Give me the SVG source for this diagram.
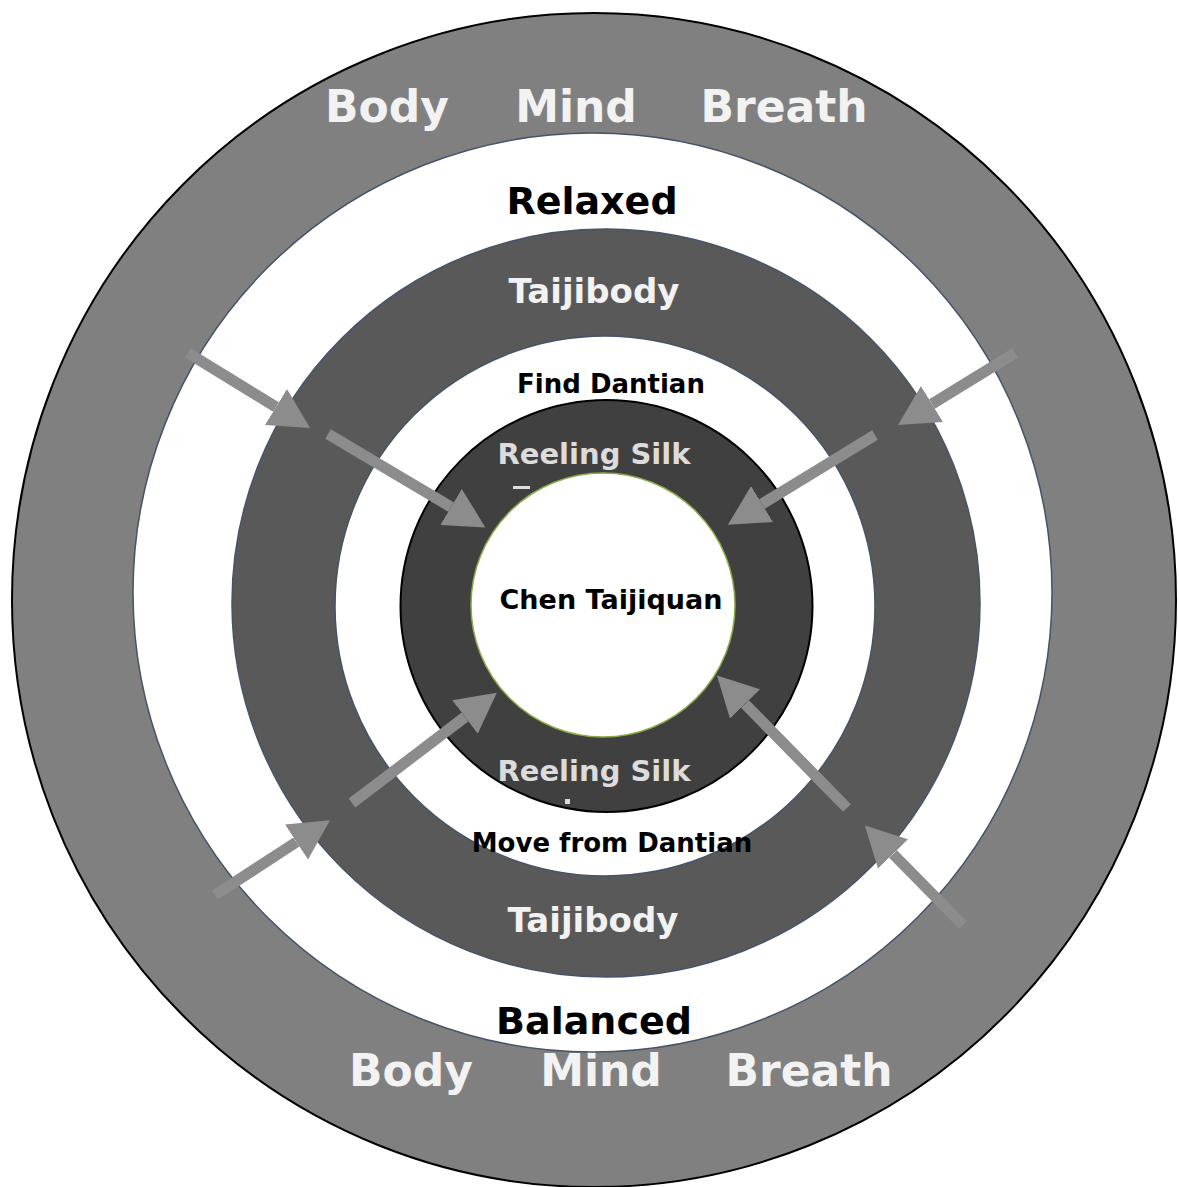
<svg xmlns="http://www.w3.org/2000/svg" width="1179" height="1187" viewBox="0 0 1179 1187">
<style>
text{font-family:"DejaVu Sans","Liberation Sans",sans-serif;font-weight:bold;text-anchor:middle}
.lt{fill:#f2f2f2}
.rs{fill:#dcdcdc}
.dk{fill:#000}
.ring{stroke:#44546a;stroke-width:1.5}
.arrow{stroke:#8c8c8c;stroke-width:11;fill:none;marker-end:url(#head)}
</style>
<defs>
<marker id="head" markerUnits="userSpaceOnUse" markerWidth="40" markerHeight="42" viewBox="0 0 40 42" refX="0" refY="21" orient="auto">
<path d="M0,0 L40,21 L0,42 z" fill="#8c8c8c"/>
</marker>
</defs>
<rect width="1179" height="1187" fill="#fff"/>
<g id="outer-ring">
<ellipse cx="594" cy="600" rx="582" ry="587" fill="#808080" stroke="#000" stroke-width="2"/>
<text class="lt" x="387" y="122" font-size="44">Body</text>
<text class="lt" x="576" y="122" font-size="44">Mind</text>
<text class="lt" x="784" y="122" font-size="44">Breath</text>
<text class="lt" x="411" y="1086" font-size="44">Body</text>
<text class="lt" x="601" y="1086" font-size="44">Mind</text>
<text class="lt" x="809" y="1086" font-size="44">Breath</text>
</g>
<g id="relaxed-balanced-ring">
<circle class="ring" cx="592.5" cy="592.5" r="459.5" fill="#fff"/>
<text class="dk" x="592" y="214" font-size="38">Relaxed</text>
<text class="dk" x="594" y="1034" font-size="38">Balanced</text>
</g>
<g id="taijibody-ring">
<circle class="ring" cx="606" cy="603" r="374" fill="#595959"/>
<text class="lt" x="594" y="303" font-size="34">Taijibody</text>
<text class="lt" x="593" y="932" font-size="34">Taijibody</text>
</g>
<g id="dantian-ring">
<circle class="ring" cx="605" cy="606" r="270" fill="#fff"/>
<text class="dk" x="611" y="393" font-size="26">Find Dantian</text>
<text class="dk" x="612" y="852" font-size="26">Move from Dantian</text>
</g>
<g id="reeling-silk-ring">
<circle cx="606.5" cy="606" r="206" fill="#404040" stroke="#000" stroke-width="2"/>
<text class="rs" x="594" y="464" font-size="29">Reeling Silk</text>
<text class="rs" x="594" y="781" font-size="29">Reeling Silk</text>
<rect x="513" y="486" width="17" height="3" fill="#dcdcdc"/>
<rect x="565" y="799" width="5" height="5" fill="#dcdcdc"/>
</g>
<g id="center">
<circle cx="603" cy="605" r="132" fill="#fff" stroke="#8aab4a" stroke-width="1.5"/>
<text class="dk" x="611" y="609" font-size="27">Chen Taijiquan</text>
</g>
<g id="connectors">
<line class="arrow" x1="188" y1="353" x2="276" y2="407"/>
<line class="arrow" x1="328" y1="434" x2="451" y2="507"/>
<line class="arrow" x1="1015" y1="353" x2="932" y2="404"/>
<line class="arrow" x1="875" y1="435" x2="762" y2="504"/>
<line class="arrow" x1="215" y1="895" x2="296.5" y2="842"/>
<line class="arrow" x1="352" y1="803" x2="465" y2="717"/>
<line class="arrow" x1="847" y1="808" x2="745" y2="704"/>
<line class="arrow" x1="963" y1="925" x2="893" y2="854"/>
</g>
</svg>
